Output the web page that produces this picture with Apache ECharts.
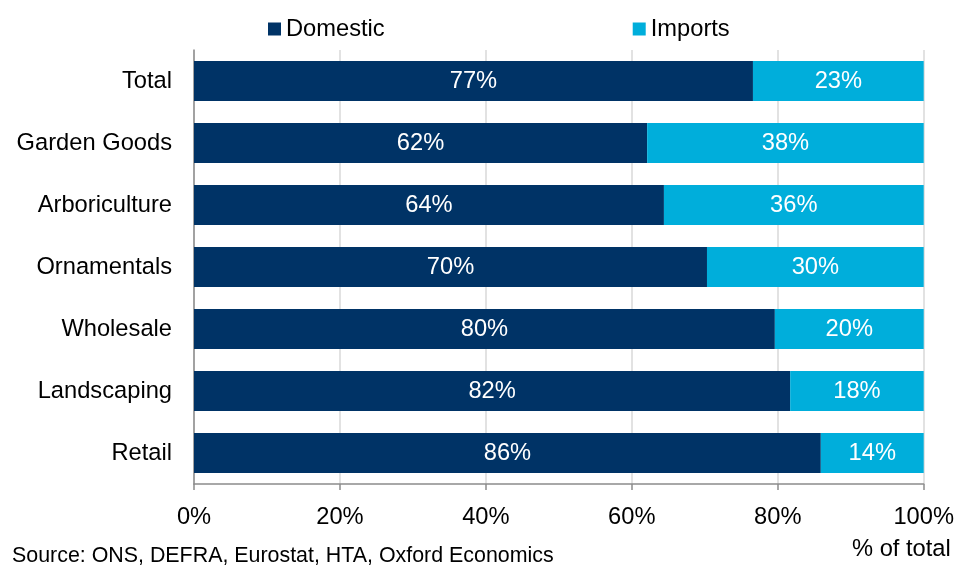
<!DOCTYPE html>
<html><head><meta charset="utf-8">
<script src="https://cdn.jsdelivr.net/npm/echarts@6/dist/echarts.min.js"></script>
<style>html,body{margin:0;padding:0;background:#fff}#c{width:957px;height:567px}</style>
</head><body><div id="c"></div>
<script>
const categories = ['Total','Garden Goods','Arboriculture','Ornamentals','Wholesale','Landscaping','Retail'];
const domestic = [76.6, 62.1, 64.4, 70.3, 79.6, 81.7, 85.9];
const imports = [23.4, 37.9, 35.6, 29.7, 20.4, 18.3, 14.1];
const xTicks = [0, 20, 40, 60, 80, 100];
const seriesNames = ['Domestic','Imports'];
const sourceText = 'Source: ONS, DEFRA, Eurostat, HTA, Oxford Economics';
const unitText = '% of total';

const FONT = '"Liberation Sans", Arial, sans-serif';
const FS = 23.7;
const chart = echarts.init(document.getElementById('c'));
const lbl = {show:true, position:'inside', color:'#fff', fontSize:FS, fontFamily:FONT,
  formatter: p => Math.round(p.value) + '%'};
chart.setOption({
  animation:false,
  textStyle:{fontFamily:FONT},
  grid:{left:194, right:31, top:50, bottom:83, containLabel:false},
  legend:{left:263, top:12, itemWidth:13, itemHeight:13, itemGap:248, icon:'rect',
    textStyle:{fontSize:FS, color:'#000', fontFamily:FONT},
    data:seriesNames},
  xAxis:{type:'value', min:xTicks[0], max:xTicks[xTicks.length-1], interval:20,
    axisLine:{show:true, lineStyle:{color:'#8c8c8c', width:1.5}},
    axisTick:{show:true, length:6, lineStyle:{color:'#8c8c8c', width:1.5}},
    splitLine:{show:true, lineStyle:{color:'#d9d9d9', width:1.5}},
    axisLabel:{fontSize:FS, color:'#000', margin:21, formatter: v => v + '%'}},
  yAxis:{type:'category', data:categories, inverse:true,
    axisLine:{show:true, lineStyle:{color:'#8c8c8c', width:1.5}},
    axisTick:{show:false},
    axisLabel:{fontSize:FS, color:'#000', margin:22}},
  series:[
    {name:seriesNames[0], type:'bar', stack:'t', data:domestic, barWidth:40,
      itemStyle:{color:'#003366'}, label:lbl},
    {name:seriesNames[1], type:'bar', stack:'t', data:imports, barWidth:40,
      itemStyle:{color:'#00AEDB'}, label:lbl}
  ],
  graphic:[
    {type:'text', left:12, top:546, style:{text:sourceText, fontSize:21.4, fill:'#000', fontFamily:FONT}},
    {type:'text', left:852, top:537, style:{text:unitText, fontSize:FS, fill:'#000', fontFamily:FONT}}
  ]
});
</script></body></html>
